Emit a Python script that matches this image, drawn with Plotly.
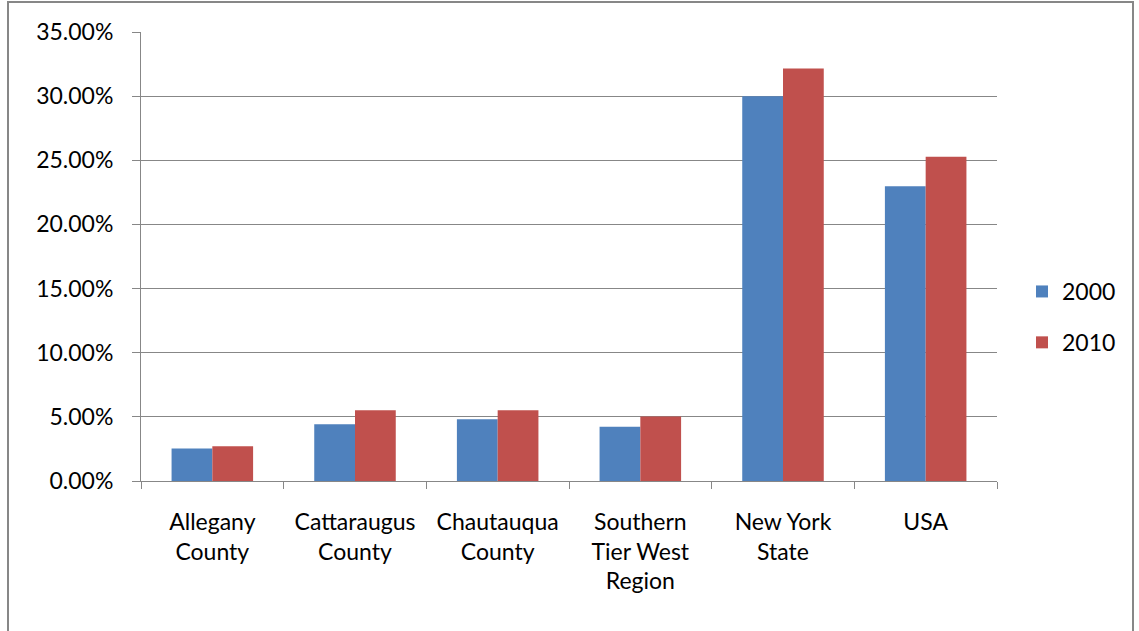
import plotly.graph_objects as go

categories = ["Allegany<br>County", "Cattaraugus<br>County", "Chautauqua<br>County",
              "Southern<br>Tier West<br>Region", "New York<br>State", "USA"]
series_2000 = [0.0253, 0.0443, 0.0482, 0.0422, 0.3000, 0.2297]
series_2010 = [0.0271, 0.0552, 0.0552, 0.0503, 0.3216, 0.2527]
y_ticks = [0, 0.05, 0.10, 0.15, 0.20, 0.25, 0.30, 0.35]

FONT = "Lato"
FS = 23
GRID = "#878787"

fig = go.Figure()
fig.add_trace(go.Bar(name="2000", x=categories, y=series_2000, legendgroup="a",
                     marker=dict(color="#4F81BD", line=dict(width=0))))
fig.add_trace(go.Bar(name="2010", x=categories, y=series_2010, legendgroup="b",
                     marker=dict(color="#C0504D", line=dict(width=0))))

W, H = 1139, 631
L, R, T, B = 141, 142, 32, 150
pw, ph = W - L - R, H - T - B

def px_to_paper_x(px):
    return (px - L) / pw

def px_to_paper_y(py):
    return (H - B - py) / ph

fig.update_layout(
    width=W, height=H,
    margin=dict(l=L, r=R, t=T, b=B, pad=0),
    paper_bgcolor="white", plot_bgcolor="white",
    barmode="group", bargap=1.5 / 3.5, bargroupgap=0,
    font=dict(family=FONT, size=FS, color="#000000"),
    showlegend=True,
    legend=dict(x=px_to_paper_x(1022), y=px_to_paper_y(317), xanchor="left", yanchor="middle",
                font=dict(family=FONT, size=FS, color="#000000"),
                bgcolor="rgba(0,0,0,0)", tracegroupgap=18, itemwidth=30),
    xaxis=dict(showline=True, linecolor=GRID, linewidth=1, ticks="outside",
               tickson="boundaries", ticklen=7, tickcolor=GRID, showgrid=False,
               tickfont=dict(family=FONT, size=FS, color="#000000"), tickangle=0,
               ticklabelstandoff=20, fixedrange=True),
    yaxis=dict(range=[0, 0.35], tickvals=y_ticks, tickformat=".2%",
               showline=True, linecolor=GRID, linewidth=1, ticks="outside",
               ticklen=8, tickcolor=GRID, showgrid=True, gridcolor=GRID, gridwidth=1,
               zeroline=False, ticklabelstandoff=14,
               tickfont=dict(family=FONT, size=FS, color="#000000")),
)

# outer chart border
fig.add_shape(type="rect", xref="paper", yref="paper",
              x0=px_to_paper_x(8), x1=px_to_paper_x(1133),
              y0=px_to_paper_y(660), y1=px_to_paper_y(2),
              line=dict(color="#878787", width=2), fillcolor="rgba(0,0,0,0)", layer="below")

fig.write_html("out.html")
